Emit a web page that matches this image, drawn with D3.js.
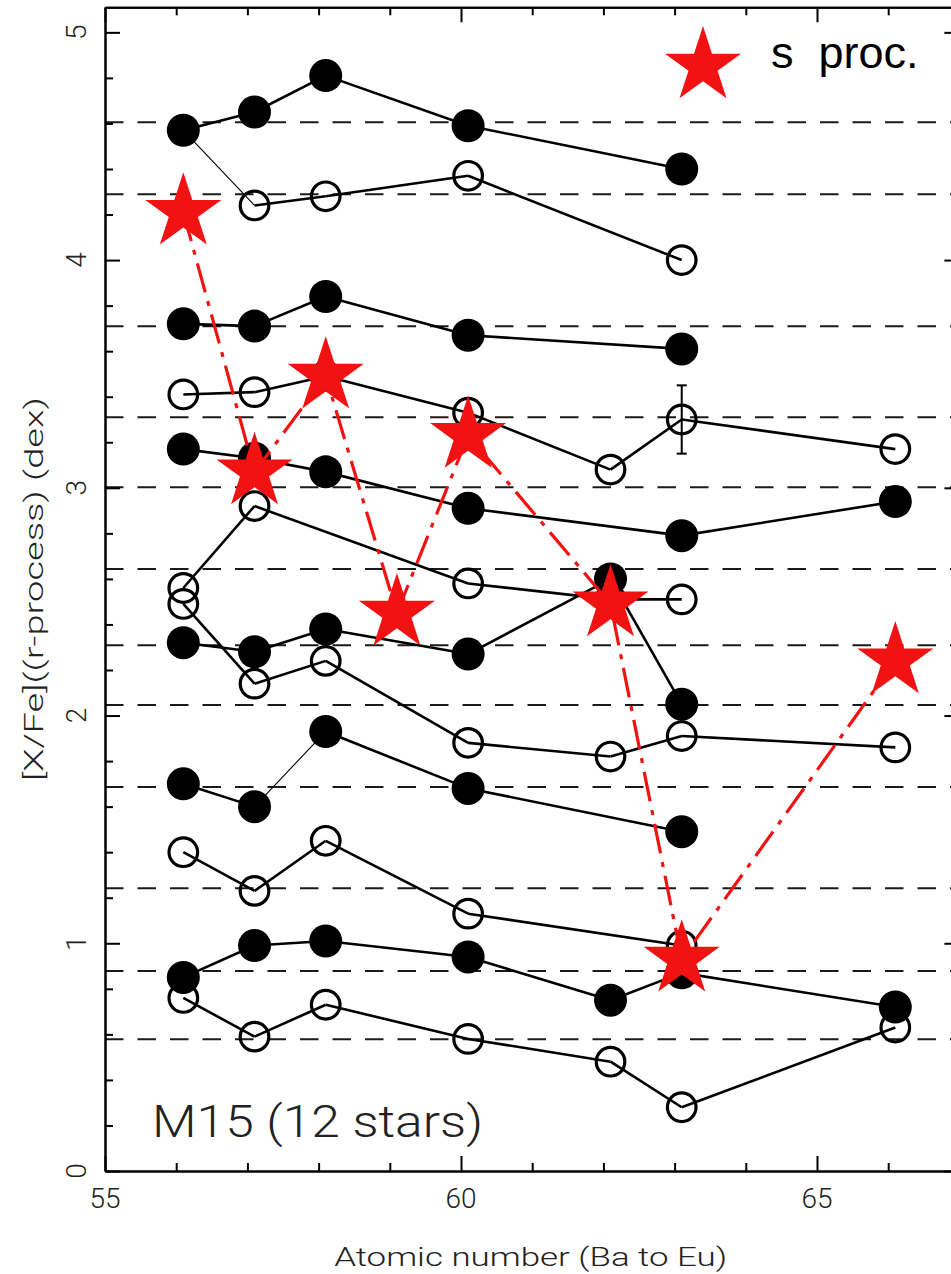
<!DOCTYPE html>
<html><head><meta charset="utf-8">
<script src="https://cdn.jsdelivr.net/npm/d3@7"></script>
<style>
html,body{margin:0;padding:0;background:#fff;}
svg{display:block;}
</style></head><body>
<svg id="chart" width="951" height="1274"></svg>
<script>
// ---------------- data ----------------
// atomic numbers of the s-process curve (Ba .. Dy)
const sProcZ = [56, 57, 58, 59, 60, 62, 63, 66];
const sProcY = [4.21, 3.07, 3.49, 2.45, 3.23, 2.49, 0.93, 2.24];

// 12 stars: filled (F) and open (O) symbols
const zA = [56, 57, 58, 60, 63];            const yA = [4.57, 4.65, 4.81, 4.59, 4.40];
const zB = [56, 57, 58, 60, 63];            const yB = [4.57, 4.24, 4.28, 4.37, 4.00];
const zC = [56, 57, 58, 60, 63];            const yC = [3.72, 3.71, 3.84, 3.67, 3.61];
const zD = [56, 57, 58, 60, 62, 63, 66];    const yD = [3.41, 3.42, 3.49, 3.33, 3.08, 3.30, 3.17];
const zE = [56, 57, 58, 60, 63, 66];        const yE = [3.17, 3.13, 3.07, 2.91, 2.79, 2.94];
const zF = [56, 57, 60, 62, 63];            const yF = [2.56, 2.92, 2.58, 2.51, 2.51];
const zG = [56, 57, 58, 60, 62, 63, 66];    const yG = [2.49, 2.14, 2.24, 1.88, 1.82, 1.91, 1.86];
const zH = [56, 57, 58, 60, 62, 63];        const yH = [2.32, 2.28, 2.38, 2.27, 2.60, 2.05];
const zI = [56, 57, 58, 60, 63];            const yI = [1.70, 1.60, 1.93, 1.68, 1.49];
const zJ = [56, 57, 58, 60, 63];            const yJ = [1.40, 1.23, 1.45, 1.13, 0.99];
const zK = [56, 57, 58, 60, 62, 63, 66];    const yK = [0.85, 0.99, 1.01, 0.94, 0.75, 0.87, 0.72];
const zL = [56, 57, 58, 60, 62, 63, 66];    const yL = [0.76, 0.59, 0.73, 0.58, 0.48, 0.28, 0.63];

// error bar on one point (star D, Eu)
const errZ = [63]; const errY = [3.30]; const errSize = [0.15];

// dashed reference levels (one per star)
const refLevels = [4.605, 4.289, 3.709, 3.310, 3.003, 2.643, 2.309, 2.046, 1.686, 1.242, 0.878, 0.579];

// axis ticks
const xMajorTicks = [55, 60, 65];
const xMinorTicks = [56, 57, 58, 59, 61, 62, 63, 64, 66];
const yMajorTicks = [0, 1, 2, 3, 4, 5];
const yMinorTicks = d3.range(0.2, 5.1, 0.2).filter(v => Math.abs(v - Math.round(v)) > 0.01);

const xTitle = "Atomic number (Ba to Eu)";
const yTitle = "[X/Fe]((r-process) (dex)";
const clusterLabel = "M15 (12 stars)";
const legendLabel = "s  proc.";

// ---------------- assemble ----------------
const series = [
  {z: zA, y: yA, filled: true,  thin: []},
  {z: zB, y: yB, filled: false, thin: [0]},
  {z: zC, y: yC, filled: true,  thin: []},
  {z: zD, y: yD, filled: false, thin: []},
  {z: zE, y: yE, filled: true,  thin: []},
  {z: zF, y: yF, filled: false, thin: []},
  {z: zG, y: yG, filled: false, thin: []},
  {z: zH, y: yH, filled: true,  thin: []},
  {z: zI, y: yI, filled: true,  thin: [1]},
  {z: zJ, y: yJ, filled: false, thin: []},
  {z: zK, y: yK, filled: true,  thin: []},
  {z: zL, y: yL, filled: false, thin: []}
];
const zShift = 0.1; // symbols sit slightly right of the integer Z

const svg = d3.select("#chart");
const x = d3.scaleLinear().domain([55, 67]).range([105, 959.4]);
const y = d3.scaleLinear().domain([0, 5.11]).range([1171, 7.3]);
const px = z => x(z + zShift);

// dashed reference lines
svg.append("g").selectAll("line").data(refLevels).join("line")
  .attr("x1", x(55)).attr("x2", x(67))
  .attr("y1", d => y(d)).attr("y2", d => y(d))
  .attr("stroke", "#1a1a1a").attr("stroke-width", 2)
  .attr("stroke-dasharray", "18.5,14").attr("stroke-dashoffset", 0);

// series lines
const segG = svg.append("g");
series.forEach(s => {
  const pts = s.z.map((z, i) => [z, s.y[i]]);
  for (let i = 0; i < pts.length - 1; i++) {
    segG.append("line")
      .attr("x1", px(pts[i][0])).attr("y1", y(pts[i][1]))
      .attr("x2", px(pts[i + 1][0])).attr("y2", y(pts[i + 1][1]))
      .attr("stroke", "#000")
      .attr("stroke-width", s.thin.includes(i) ? 1.1 : 2.6);
  }
});

// open symbols first, filled on top
const symG = svg.append("g");
series.filter(s => !s.filled).forEach(s => {
  symG.append("g").selectAll("circle").data(s.z.map((z, i) => [z, s.y[i]])).join("circle")
    .attr("cx", d => px(d[0])).attr("cy", d => y(d[1])).attr("r", 14.3)
    .attr("fill", "none").attr("stroke", "#000").attr("stroke-width", 3.2);
});
series.filter(s => s.filled).forEach(s => {
  symG.append("g").selectAll("circle").data(s.z.map((z, i) => [z, s.y[i]])).join("circle")
    .attr("cx", d => px(d[0])).attr("cy", d => y(d[1])).attr("r", 16.5)
    .attr("fill", "#000");
});

// error bar
errZ.forEach((z, i) => {
  const g = svg.append("g").attr("stroke", "#000").attr("stroke-width", 2);
  g.append("line").attr("x1", px(z)).attr("x2", px(z))
    .attr("y1", y(errY[i] - errSize[i])).attr("y2", y(errY[i] + errSize[i]));
  [errY[i] - errSize[i], errY[i] + errSize[i]].forEach(v => {
    g.append("line").attr("x1", px(z) - 5).attr("x2", px(z) + 5)
      .attr("y1", y(v)).attr("y2", y(v));
  });
});

// s-process curve
const red = "#f21212";
const sPts = sProcZ.map((z, i) => [z, sProcY[i]]);
svg.append("path")
  .attr("d", d3.line().x(d => px(d[0])).y(d => y(d[1]))(sPts))
  .attr("fill", "none").attr("stroke", red).attr("stroke-width", 3.2)
  .attr("stroke-dasharray", "30,9,5,9");

function starPath(R) {
  const pts = [];
  for (let k = 0; k < 10; k++) {
    const r = k % 2 === 0 ? R : R * 0.382;
    const a = -Math.PI / 2 + k * Math.PI / 5;
    pts.push([r * Math.cos(a), r * Math.sin(a)]);
  }
  return "M" + pts.map(p => p[0].toFixed(2) + "," + p[1].toFixed(2)).join("L") + "Z";
}
const starD = starPath(40);
svg.append("g").selectAll("path").data(sPts).join("path")
  .attr("d", starD)
  .attr("transform", d => `translate(${px(d[0])},${y(d[1])})`)
  .attr("fill", red);

// ---------------- axes ----------------
function styleAxis(g) {
  g.selectAll("path.domain").attr("stroke", "#000").attr("stroke-width", 2);
  g.selectAll(".tick line").attr("stroke", "#000").attr("stroke-width", 2);
  g.selectAll(".tick text").remove();
}
// bottom
svg.append("g").attr("transform", `translate(0,${y(0)})`)
  .call(d3.axisBottom(x).tickValues(xMajorTicks).tickSizeInner(-15).tickSizeOuter(0).tickFormat(""))
  .call(styleAxis);
svg.append("g").attr("transform", `translate(0,${y(0)})`)
  .call(d3.axisBottom(x).tickValues(xMinorTicks).tickSizeInner(-8).tickSizeOuter(0).tickFormat(""))
  .call(styleAxis);
// top
svg.append("g").attr("transform", `translate(0,${y(5.11)})`)
  .call(d3.axisTop(x).tickValues(xMajorTicks).tickSizeInner(-15).tickSizeOuter(0).tickFormat(""))
  .call(styleAxis);
svg.append("g").attr("transform", `translate(0,${y(5.11)})`)
  .call(d3.axisTop(x).tickValues(xMinorTicks).tickSizeInner(-8).tickSizeOuter(0).tickFormat(""))
  .call(styleAxis);
// left
svg.append("g").attr("transform", `translate(${x(55)},0)`)
  .call(d3.axisLeft(y).tickValues(yMajorTicks).tickSizeInner(-15).tickSizeOuter(0).tickFormat(""))
  .call(styleAxis);
svg.append("g").attr("transform", `translate(${x(55)},0)`)
  .call(d3.axisLeft(y).tickValues(yMinorTicks).tickSizeInner(-8).tickSizeOuter(0).tickFormat(""))
  .call(styleAxis);
// right
svg.append("g").attr("transform", `translate(${x(67)},0)`)
  .call(d3.axisRight(y).tickValues(yMajorTicks).tickSizeInner(-15).tickSizeOuter(0).tickFormat(""))
  .call(styleAxis);
svg.append("g").attr("transform", `translate(${x(67)},0)`)
  .call(d3.axisRight(y).tickValues(yMinorTicks).tickSizeInner(-8).tickSizeOuter(0).tickFormat(""))
  .call(styleAxis);

// tick labels
const tickFont = "Roboto, 'DejaVu Sans', sans-serif";
svg.append("g").selectAll("text").data(xMajorTicks).join("text")
  .attr("x", d => x(d)).attr("y", 1208)
  .attr("text-anchor", "middle")
  .attr("font-family", tickFont).attr("font-weight", 300).attr("font-size", 28)
  .attr("fill", "#222").text(d => d);
svg.append("g").selectAll("text").data(yMajorTicks).join("text")
  .attr("transform", d => `translate(86,${y(d)}) rotate(-90)`)
  .attr("text-anchor", "middle")
  .attr("font-family", tickFont).attr("font-weight", 300).attr("font-size", 28)
  .attr("fill", "#222").text(d => d);

// axis titles
svg.append("text")
  .attr("x", (x(55) + x(67)) / 2 - 2 - 196).attr("y", 1266)
  .attr("textLength", 393).attr("lengthAdjust", "spacingAndGlyphs")
  .attr("font-family", tickFont).attr("font-weight", 300).attr("font-size", 25)
  .attr("fill", "#222").text(xTitle);
svg.append("text")
  .attr("transform", `translate(43,${589 + 192}) rotate(-90)`)
  .attr("textLength", 384).attr("lengthAdjust", "spacingAndGlyphs")
  .attr("font-family", tickFont).attr("font-weight", 300).attr("font-size", 25)
  .attr("fill", "#222").text(yTitle);

// cluster label
svg.append("text")
  .attr("x", 152).attr("y", 1137)
  .attr("textLength", 331).attr("lengthAdjust", "spacingAndGlyphs")
  .attr("font-family", tickFont).attr("font-weight", 300).attr("font-size", 44)
  .attr("fill", "#222").attr("xml:space", "preserve").text(clusterLabel);

// legend
svg.append("path").attr("d", starD).attr("transform", "translate(703,66)").attr("fill", red);
svg.append("text")
  .attr("x", 771).attr("y", 68)
  .attr("font-family", "'Liberation Sans', Arial, sans-serif").attr("font-size", 45)
  .attr("fill", "#000").attr("xml:space", "preserve").style("white-space", "pre")
  .text(legendLabel);
</script>
</body></html>
